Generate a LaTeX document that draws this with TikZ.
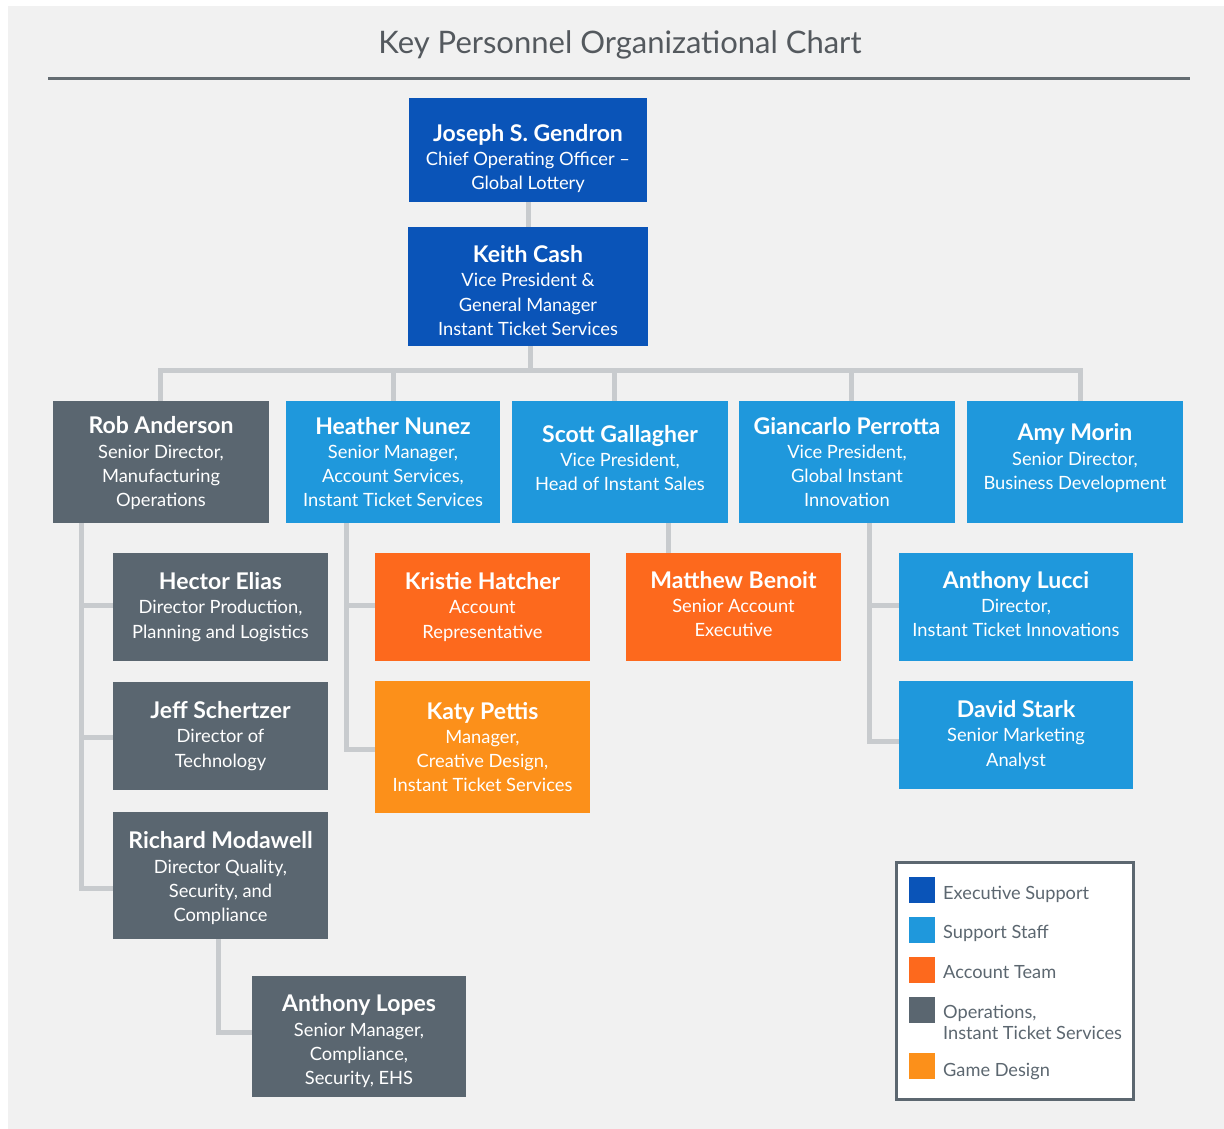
\documentclass[tikz,border=0pt]{standalone}
\usepackage{fontspec}
\setmainfont{Lato}
\usetikzlibrary{calc}
\definecolor{bgray}{HTML}{F1F1F1}
\definecolor{execblue}{HTML}{0A54B8}
\definecolor{suppblue}{HTML}{1F98DC}
\definecolor{accorange}{HTML}{FD691D}
\definecolor{opsgray}{HTML}{5A6670}
\definecolor{gameorange}{HTML}{FC901A}
\definecolor{connc}{HTML}{C8CBCE}
\definecolor{titlec}{HTML}{54595E}
\definecolor{rulec}{HTML}{646C72}
\definecolor{legc}{HTML}{5C6770}
\newcommand\pname[1]{{\fontsize{23}{26}\selectfont\bfseries #1}}
\newcommand\tophi[1]{\rule{0pt}{#1}}
\newcommand\botlo[1]{\rule[-#1]{0pt}{#1}}
\begin{document}
\begin{tikzpicture}[x=1pt,y=-1pt,
  box/.style={rectangle, inner sep=0pt, align=center, text=white,
    font=\fontsize{18.3}{24.3}\selectfont},
  exec/.style={box, fill=execblue},
  supp/.style={box, fill=suppblue},
  acc/.style={box, fill=accorange},
  ops/.style={box, fill=opsgray},
  game/.style={box, fill=gameorange},
  conn/.style={draw=connc, line width=5pt},
  swatch/.style={rectangle, inner sep=0pt, minimum width=26pt, minimum height=26pt},
  legtext/.style={anchor=west, inner sep=0pt, text=legc, align=left,
    font=\fontsize{18.2}{21}\selectfont}]
\useasboundingbox (0,0) rectangle (1224,1129);
\fill[white] (0,0) rectangle (1224,1129);
\fill[bgray] (8,6) rectangle (1224,1129);

% title
\node[text=titlec, font=\fontsize{31}{34}\selectfont] (title) at (620,45) {Key Personnel Organizational Chart};
\coordinate (ruleL) at (48,79);
\coordinate (ruleR) at (1190,79);
\draw[rulec, line width=3pt] (ruleL) -- (ruleR);

% bus coordinates and trunks
\coordinate (busL) at (160,370);
\coordinate (busR) at (1080,370);
\coordinate (robT) at (81,523);
\coordinate (heaT) at (346,523);
\coordinate (giaT) at (869,523);

% connectors (drawn first)
\draw[conn] (528,202) -- (528,227);
\draw[conn] (530,346) -- (530,370);
\draw[conn, line cap=rect] (busL) -- (busR);
\draw[conn] (busL) -- (160,401);
\draw[conn] (393,370) -- (393,401);
\draw[conn] (614,370) -- (614,401);
\draw[conn] (851,370) -- (851,401);
\draw[conn] (busR) -- (1080,401);
\draw[conn] (robT) -- (81,888) -- (113,888);
\draw[conn] (81,605) -- (113,605);
\draw[conn] (81,737) -- (113,737);
\draw[conn] (218,939) -- (218,1032) -- (252,1032);
\draw[conn] (heaT) -- (346,749) -- (375,749);
\draw[conn] (346,605) -- (375,605);
\draw[conn] (668,523) -- (668,553);
\draw[conn] (giaT) -- (869,741) -- (899,741);
\draw[conn] (869,605) -- (899,605);

% boxes
\node[exec, minimum width=238pt, minimum height=104pt] (joseph) at (528,150)
  {\tophi{34pt}\pname{Joseph S. Gendron}\\Chief Operating Officer --\\Global Lottery};
\node[exec, minimum width=240pt, minimum height=119pt] (keith) at (528,286.5)
  {\tophi{25pt}\pname{Keith Cash}\\Vice President \&\\General Manager\\Instant Ticket Services};

\node[ops, minimum width=216pt, minimum height=122pt] (rob) at (161,462)
  {\tophi{20pt}\pname{Rob Anderson}\\Senior Director,\\Manufacturing\\Operations};
\node[supp, minimum width=214pt, minimum height=122pt] (heather) at (393,462)
  {\pname{Heather Nunez}\\Senior Manager,\\Account Services,\\Instant Ticket Services};
\node[supp, minimum width=216pt, minimum height=122pt] (scott) at (620,462)
  {\pname{Scott Gallagher}\\Vice President,\\Head of Instant Sales\botlo{8pt}};
\node[supp, minimum width=216pt, minimum height=122pt] (gian) at (847,462)
  {\pname{Giancarlo Perrotta}\\Vice President,\\Global Instant\\Innovation};
\node[supp, minimum width=216pt, minimum height=122pt] (amy) at (1075,462)
  {\pname{Amy Morin}\\Senior Director,\\Business Development\botlo{11pt}};

\node[ops, minimum width=215pt, minimum height=108pt] (hector) at (220.5,607)
  {\pname{Hector Elias}\\Director Production,\\Planning and Logistics};
\node[ops, minimum width=215pt, minimum height=108pt] (jeff) at (220.5,736)
  {\pname{Jeff Schertzer}\\Director of\\Technology};
\node[ops, minimum width=215pt, minimum height=127pt] (richard) at (220.5,875.5)
  {\tophi{23pt}\pname{Richard Modawell}\\Director Quality,\\Security, and\\Compliance};
\node[ops, minimum width=214pt, minimum height=121pt] (lopes) at (359,1036.5)
  {\tophi{27pt}\pname{Anthony Lopes}\\Senior Manager,\\Compliance,\\Security, EHS};

\node[acc, minimum width=215pt, minimum height=108pt] (kristie) at (482.5,607)
  {\pname{Kristie Hatcher}\\Account\\Representative};
\node[game, minimum width=215pt, minimum height=132pt] (katy) at (482.5,747)
  {\pname{Katy Pettis}\\Manager,\\Creative Design,\\Instant Ticket Services};
\node[acc, minimum width=215pt, minimum height=108pt] (matthew) at (733.5,607)
  {\pname{Matthew Benoit}\\Senior Account\\Executive\botlo{6pt}};

\node[supp, minimum width=234pt, minimum height=108pt] (lucci) at (1016,607)
  {\pname{Anthony Lucci}\\Director,\\Instant Ticket Innovations\botlo{6pt}};
\node[supp, minimum width=234pt, minimum height=108pt] (david) at (1016,735)
  {\pname{David Stark}\\Senior Marketing\\Analyst};

% legend
\node[draw=legc, line width=3pt, fill=white, minimum width=237pt, minimum height=237pt, inner sep=0pt] (legend) at (1014.5,981) {};
\node[swatch, fill=execblue] (s1) at (922,890) {};
\node[swatch, fill=suppblue] (s2) at (922,930) {};
\node[swatch, fill=accorange] (s3) at (922,970) {};
\node[swatch, fill=opsgray] (s4) at (922,1010) {};
\node[swatch, fill=gameorange] (s5) at (922,1066) {};
\node[legtext] (l1) at (943,894) {Executive Support};
\node[legtext] (l2) at (943,933) {Support Staff};
\node[legtext] (l3) at (943,972) {Account Team};
\node[legtext] (l4) at (943,1022) {Operations,\\Instant Ticket Services};
\node[legtext] (l5) at (943,1072) {Game Design};
\end{tikzpicture}
\end{document}
